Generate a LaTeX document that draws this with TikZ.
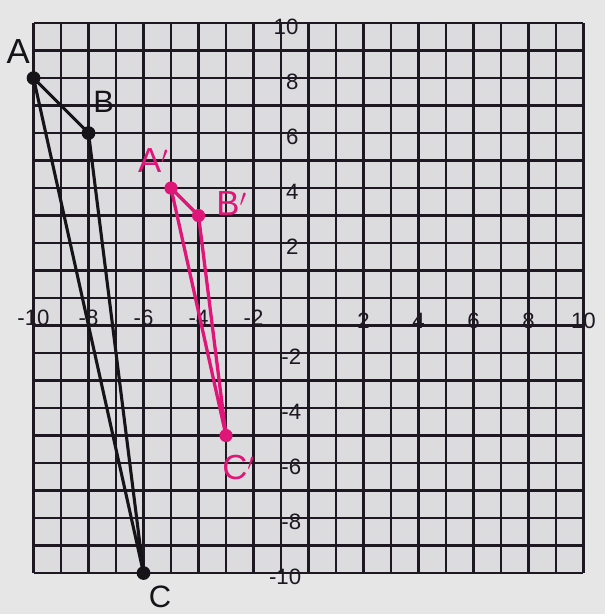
\documentclass[tikz,border=0pt]{standalone}
\usepackage{fontspec}
\setmainfont{Liberation Sans}
\begin{document}
\begin{tikzpicture}[x=1cm,y=1cm,
  gridline/.style={draw=gridc,line width=2.7pt},
  num/.style={font=\fontsize{23}{23}\selectfont,text=gridc,inner sep=0pt},
  blk/.style={draw=inkc,line width=3.2pt,line join=round},
  pnk/.style={draw=pinkc,line width=3.4pt,line join=round},
  bdot/.style={circle,fill=inkc,minimum size=0.5cm,inner sep=0pt},
  pdot/.style={circle,fill=pinkc,minimum size=0.48cm,inner sep=0pt},
  hand/.style={font=\fontsize{36}{36}\selectfont,inner sep=0pt},
]
\definecolor{gridc}{RGB}{30,24,34}
\definecolor{inkc}{RGB}{22,20,24}
\definecolor{pinkc}{RGB}{222,22,120}
\definecolor{paperc}{RGB}{230,230,230}
\definecolor{cellc}{RGB}{220,220,222}
% bounding box
\fill[paperc] (-11.22,-11.49) rectangle (10.78,10.84);
\useasboundingbox (-11.22,-11.49) rectangle (10.78,10.84);
\fill[cellc] (-10,-10) rectangle (10,10);
% grid
\foreach \i in {-10,...,10} {
  \draw[gridline] (\i,-10) -- (\i,10);
  \draw[gridline] (-10,\i) -- (10,\i);
}
% axis labels
\foreach \i in {2,4,6,8,10} {
  \node[num] (xp\i) at (\i,-0.82) {\i};
  \node[num] (xn\i) at (-\i,-0.72) {-\i};
  \node[num,anchor=east] (yp\i) at (-0.36,\i-0.15) {\i};
  \node[num,anchor=east] (yn\i) at (-0.26,-\i-0.15) {-\i};
}
% original triangle
\node[bdot] (A) at (-10,8) {};
\node[bdot] (B) at (-8,6) {};
\node[bdot] (C) at (-6,-10) {};
\draw[blk] (A.center) -- (B.center) -- (C.center) -- cycle;
\node[hand,text=inkc] (lA) at (-10.56,8.95) {A};
\node[hand,text=inkc,font=\fontsize{32}{32}\selectfont] (lB) at (-7.45,7.13) {B};
\node[hand,text=inkc,font=\fontsize{32}{32}\selectfont] (lC) at (-5.4,-10.85) {C};
% image triangle
\node[pdot] (A1) at (-5,4) {};
\node[pdot] (B1) at (-4,3) {};
\node[pdot] (C1) at (-3,-5) {};
\draw[pnk] (A1.center) -- (B1.center) -- (C1.center) -- cycle;
\node[hand,text=pinkc] (lA1) at (-5.65,5.0) {A$'$};
\node[hand,text=pinkc] (lB1) at (-2.8,3.45) {B$'$};
\node[hand,text=pinkc] (lC1) at (-2.55,-6.15) {C$'$};
\end{tikzpicture}
\end{document}
